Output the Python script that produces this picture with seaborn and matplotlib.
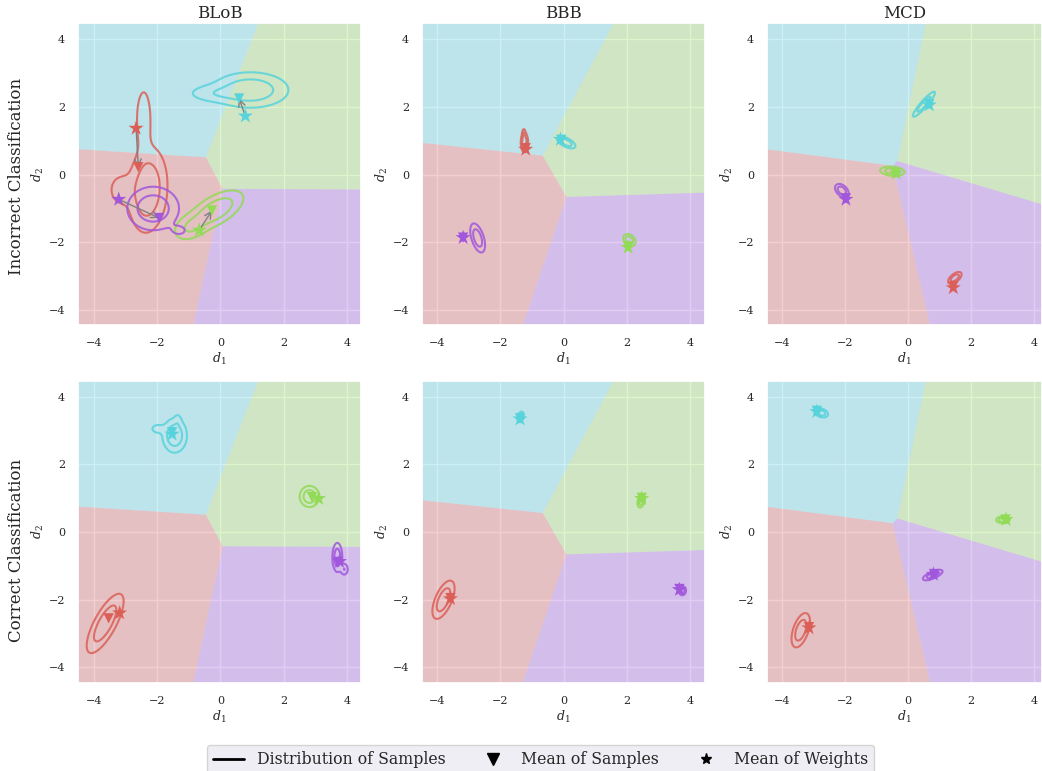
import numpy as np
import matplotlib
matplotlib.use("Agg")
import matplotlib.pyplot as plt
from matplotlib.lines import Line2D
import seaborn as sns

METHODS = ["BLoB", "BBB", "MCD"]
ROW_TITLES = ["Incorrect Classification", "Correct Classification"]
CLASSES = ["red", "green", "cyan", "purple"]   # order of the hls palette

# --- decision regions: where each boundary leaves the frame + the two inner knots ---
# edges: y on left edge, x on top edge, y on right edge, x on bottom edge
region_edges = {
    "BLoB": (0.75, 1.21, -0.44, -0.87),
    "BBB": (0.94, 1.60, -0.53, -1.31),
    "MCD": (0.75, 0.57, -0.95, 0.71),
}
region_knots = {
    "BLoB": [(-0.46, 0.51), (0.07, -0.42)],
    "BBB": [(-0.66, 0.56), (0.09, -0.66)],
    "MCD": [(-0.49, 0.26), (-0.34, 0.40)],
}
# which two classes share the short segment between the knots
region_middle = {"BLoB": "red-green", "BBB": "red-green", "MCD": "cyan-purple"}

x_limits = {"BLoB": (-4.5, 4.45), "BBB": (-4.47, 4.47), "MCD": (-4.46, 4.23)}
y_limits = (-4.45, 4.47)

# --- means (red, green, cyan, purple) ---
star_pts = {
    ("BLoB", 0): [(-2.67, 1.37), (-0.67, -1.64), (0.79, 1.73), (-3.22, -0.73)],
    ("BBB", 0): [(-1.20, 0.75), (2.04, -2.15), (-0.10, 1.04), (-3.18, -1.86)],
    ("MCD", 0): [(1.43, -3.34), (-0.38, 0.04), (0.67, 2.06), (-1.97, -0.73)],
    ("BLoB", 1): [(-3.19, -2.39), (3.11, 0.99), (-1.53, 2.89), (3.77, -0.87)],
    ("BBB", 1): [(-3.58, -1.97), (2.47, 0.99), (-1.38, 3.34), (3.66, -1.70)],
    ("MCD", 1): [(-3.14, -2.83), (3.10, 0.37), (-2.89, 3.56), (0.80, -1.25)],
}
tri_pts = {
    ("BLoB", 0): [(-2.60, 0.22), (-0.27, -1.06), (0.59, 2.25), (-1.94, -1.28)],
    ("BBB", 0): [(-1.20, 0.78), (2.04, -2.12), (-0.08, 1.03), (-3.18, -1.86)],
    ("MCD", 0): [(1.43, -3.30), (-0.40, 0.05), (0.67, 2.08), (-1.97, -0.70)],
    ("BLoB", 1): [(-3.54, -2.55), (2.90, 1.03), (-1.53, 2.95), (3.72, -0.88)],
    ("BBB", 1): [(-3.58, -1.95), (2.47, 1.01), (-1.38, 3.36), (3.66, -1.68)],
    ("MCD", 1): [(-3.14, -2.81), (3.08, 0.37), (-2.89, 3.58), (0.82, -1.24)],
}

# --- sample distributions, as gaussian blobs (mx, my, sx, sy, rho, peak) ---
kde_blobs = {
    ("BLoB", 0): [
        [(-2.30, -0.45, 0.32, 0.65, 0.1, 1.0), (-2.43, 1.65, 0.16, 0.60, 0.0, 0.35),
         (-3.15, -0.45, 0.25, 0.30, 0.0, 0.30)],
        [(-0.15, -1.05, 0.45, 0.30, 0.6, 1.0), (-0.95, -1.55, 0.30, 0.22, 0.3, 0.5)],
        [(0.95, 2.50, 0.62, 0.27, 0.0, 1.0), (-0.20, 2.40, 0.50, 0.15, 0.0, 0.35)],
        [(-2.13, -1.00, 0.42, 0.33, 0.0, 1.0), (-1.30, -1.65, 0.20, 0.12, 0.0, 0.2)],
    ],
    ("BBB", 0): [
        [(-1.24, 0.95, 0.06, 0.15, 0.0, 1.0), (-1.26, 1.22, 0.03, 0.08, 0.0, 0.4)],
        [(2.08, -1.93, 0.10, 0.09, -0.3, 1.0)],
        [(0.08, 0.95, 0.15, 0.09, -0.6, 1.0)],
        [(-2.72, -1.87, 0.12, 0.22, -0.5, 1.0)],
    ],
    ("MCD", 0): [
        [(1.48, -3.05, 0.11, 0.09, 0.6, 1.0)],
        [(-0.50, 0.10, 0.20, 0.07, -0.2, 1.0)],
        [(0.50, 2.08, 0.18, 0.19, 0.92, 1.0)],
        [(-2.10, -0.47, 0.11, 0.10, -0.4, 1.0)],
    ],
    ("BLoB", 1): [
        [(-3.65, -2.70, 0.30, 0.45, 0.75, 1.0)],
        [(2.82, 1.05, 0.16, 0.16, 0.0, 1.0)],
        [(-1.45, 2.85, 0.20, 0.26, 0.0, 1.0), (-2.00, 3.05, 0.15, 0.10, 0.0, 0.25),
         (-1.35, 3.30, 0.07, 0.12, 0.0, 0.2)],
        [(3.70, -0.75, 0.08, 0.22, 0.0, 1.0), (3.92, -1.10, 0.07, 0.10, 0.0, 0.5)],
    ],
    ("BBB", 1): [
        [(-3.80, -2.00, 0.18, 0.29, 0.6, 1.0)],
        [(2.45, 0.92, 0.06, 0.10, 0.3, 1.0)],
        [(-1.36, 3.40, 0.05, 0.08, 0.3, 1.0)],
        [(3.75, -1.73, 0.06, 0.07, 0.0, 1.0)],
    ],
    ("MCD", 1): [
        [(-3.40, -2.90, 0.15, 0.26, 0.5, 1.0)],
        [(3.00, 0.36, 0.11, 0.05, 0.0, 1.0)],
        [(-2.75, 3.52, 0.11, 0.07, -0.3, 1.0)],
        [(0.78, -1.27, 0.16, 0.08, 0.7, 1.0)],
    ],
}


def build_regions(method):
    ly, tx, ry, bx = region_edges[method]
    k1, k2 = region_knots[method]
    L = [(-6, ly), (-4.5, ly)]
    T = [(tx, 4.5), (tx, 6)]
    R = [(4.5, ry), (6, ry)]
    B = [(bx, -6), (bx, -4.5)]
    if region_middle[method] == "red-green":
        polys = {
            "cyan": [(-6, 6)] + L + [k1] + T,
            "red": [(-6, -6)] + L + [k1, k2] + B[::-1],
            "green": T[::-1] + [k1, k2] + R + [(6, 6)],
            "purple": [k2] + R + [(6, -6)] + B,
        }
    else:
        polys = {
            "cyan": [(-6, 6)] + L + [k1, k2] + T,
            "red": [(-6, -6)] + L + [k1] + B[::-1],
            "green": T[::-1] + [k2] + R + [(6, 6)],
            "purple": [k1, k2] + R + [(6, -6)] + B,
        }
    return polys


def blob_density(xx, yy, comps):
    z = np.zeros_like(xx)
    for mx, my, sx, sy, rho, w in comps:
        dx = (xx - mx) / sx
        dy = (yy - my) / sy
        q = (dx ** 2 - 2 * rho * dx * dy + dy ** 2) / (1 - rho ** 2)
        z += w * np.exp(-0.5 * q)
    return z


sns.set_theme(style="darkgrid")
plt.rcParams["font.family"] = ["DejaVu Serif"]
plt.rcParams["mathtext.fontset"] = "dejavuserif"

palette = sns.color_palette("hls", 4)
colors = dict(zip(CLASSES, palette))

fig = plt.figure(figsize=(10.42, 7.71), dpi=100)
W, H = 1042, 771
col_left = [78.3, 422.3, 767.3]
col_width = [282.7, 282.7, 274.4]
row_top = [23.3, 380.7]
row_h = 302.0

gx, gy = np.meshgrid(np.linspace(-4.7, 4.7, 400), np.linspace(-4.7, 4.7, 400))

for r in range(2):
    for c, method in enumerate(METHODS):
        ax = fig.add_axes([col_left[c] / W, 1 - (row_top[r] + row_h) / H,
                           col_width[c] / W, row_h / H])
        for cls, pts in build_regions(method).items():
            ax.fill(*zip(*pts), color=colors[cls], alpha=0.3, lw=0, zorder=1)

        key = (method, r)
        for i, cls in enumerate(CLASSES):
            z = blob_density(gx, gy, kde_blobs[key][i])
            ax.contour(gx, gy, z, levels=[0.15 * z.max(), 0.5 * z.max()],
                       colors=[colors[cls]], linewidths=1.5, alpha=0.85, zorder=2)

        if method == "BLoB" and r == 0:
            for s, t in zip(star_pts[key], tri_pts[key]):
                ax.annotate("", xy=t, xytext=s, zorder=3,
                            arrowprops=dict(arrowstyle="->", color="gray", lw=1,
                                            shrinkA=0, shrinkB=0))

        tx, ty = zip(*tri_pts[key])
        sx_, sy_ = zip(*star_pts[key])
        sns.scatterplot(x=list(tx), y=list(ty), hue=CLASSES, palette=colors,
                        marker="v", s=55, linewidth=0, legend=False, ax=ax, zorder=4)
        sns.scatterplot(x=list(sx_), y=list(sy_), hue=CLASSES, palette=colors,
                        marker="*", s=130, linewidth=0, legend=False, ax=ax, zorder=5)

        ax.set_xlim(*x_limits[method])
        ax.set_ylim(*y_limits)
        ax.set_xticks([-4, -2, 0, 2, 4])
        ax.set_yticks([-4, -2, 0, 2, 4])
        ax.tick_params(labelsize=8)
        ax.set_xlabel(r"$d_1$", fontsize=9, labelpad=2)
        ax.set_ylabel(r"$d_2$", fontsize=9, labelpad=2)
        if r == 0:
            ax.set_title(method, fontsize=12, pad=4)

fig.text(17 / W, 1 - 176.7 / H, ROW_TITLES[0], rotation=90, fontsize=12,
         ha="center", va="center")
fig.text(17 / W, 1 - 550 / H, ROW_TITLES[1], rotation=90, fontsize=12,
         ha="center", va="center")

handles = [
    Line2D([], [], color="black", lw=2),
    Line2D([], [], color="black", marker="v", linestyle="none", markersize=9),
    Line2D([], [], color="black", marker="*", linestyle="none", markersize=8),
]
labels = ["Distribution of Samples", "Mean of Samples", "Mean of Weights"]
fig.legend(handles, labels, loc="upper center", bbox_to_anchor=(540.5 / W, 1 - 737 / H),
           ncol=3, fontsize=11.3, frameon=True, columnspacing=2.0)

fig.savefig("out.png", dpi=100)
